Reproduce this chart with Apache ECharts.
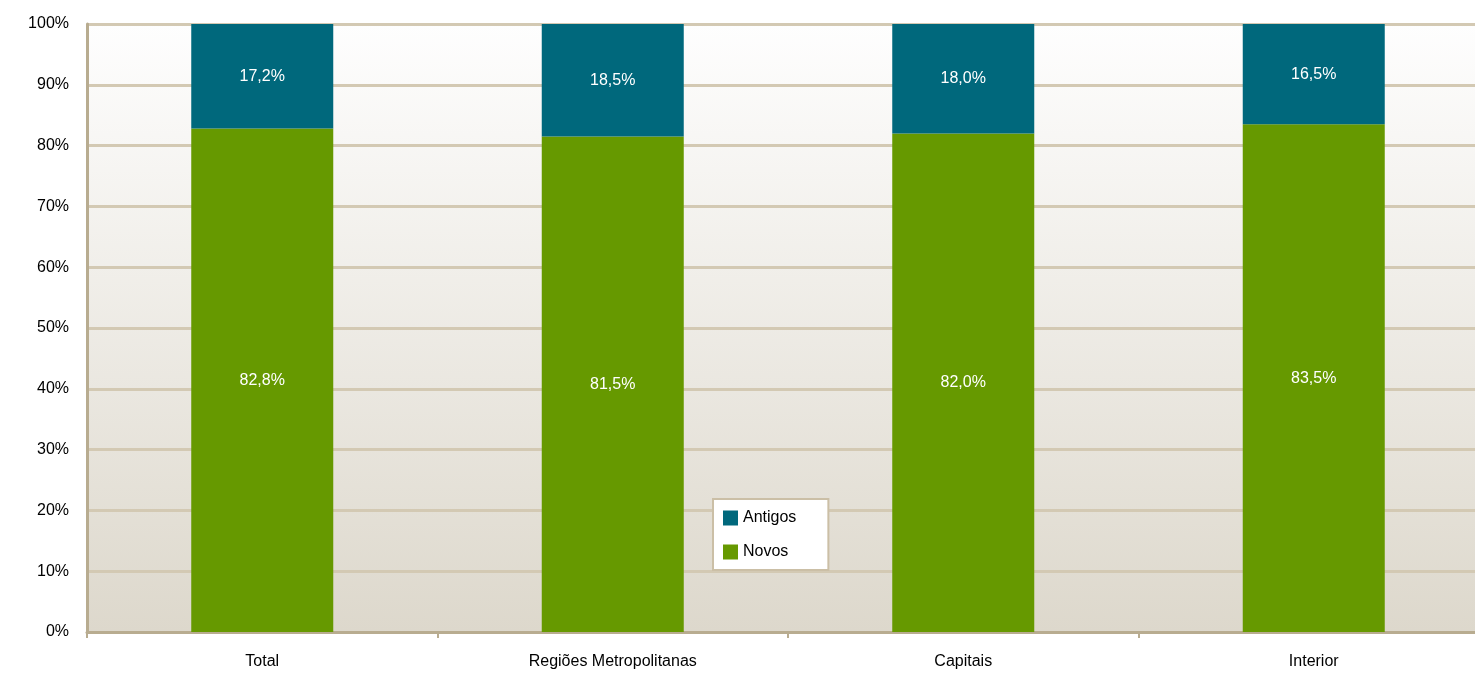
<!DOCTYPE html>
<html><head><meta charset="utf-8">
<script src="https://cdn.jsdelivr.net/npm/echarts@6/dist/echarts.min.js"></script>
<style>html,body{margin:0;padding:0;background:#fff}#c{width:1475px;height:675px}</style>
</head><body><div id="c"></div>
<script>
const categories = ['Total', 'Regiões Metropolitanas', 'Capitais', 'Interior'];
const novos = [82.8, 81.5, 82.0, 83.5];
const antigos = [17.2, 18.5, 18.0, 16.5];
const fmt = v => v.toFixed(1).replace('.', ',') + '%';
const chart = echarts.init(document.getElementById('c'));
const lbl = {show: true, position: 'inside', color: '#fff', fontFamily: 'Liberation Sans, Arial', fontSize: 16, formatter: p => fmt(p.value)};
chart.setOption({
  animation: false,
  grid: {left: 87, width: 1402, top: 24, bottom: 43, show: true, borderWidth: 0, outerBoundsMode: 'none', containLabel: false,
    backgroundColor: {type: 'linear', x: 0, y: 0, x2: 0, y2: 1, colorStops: [{offset: 0, color: '#fefefe'}, {offset: 1, color: '#ddd8cc'}]}},
  legend: {orient: 'vertical', left: 713, top: 499, itemWidth: 15, itemHeight: 15, itemGap: 18,
    padding: [11, 32, 10, 10], backgroundColor: '#fff', borderColor: '#cbbfa6', borderWidth: 2,
    icon: 'rect', itemStyle: {borderWidth: 0}, textStyle: {fontFamily: 'Liberation Sans, Arial', fontSize: 16, color: '#000'},
    data: ['Antigos', 'Novos']},
  xAxis: {type: 'category', data: categories,
    axisLine: {lineStyle: {color: '#b8ac90', width: 3}},
    axisTick: {show: true, length: 6, lineStyle: {color: '#b8ac90', width: 2}},
    axisLabel: {color: '#000', fontFamily: 'Liberation Sans, Arial', fontSize: 16, margin: 22}},
  yAxis: {type: 'value', min: 0, max: 100, interval: 10,
    axisLine: {show: true, lineStyle: {color: '#b8ac90', width: 3}},
    axisTick: {show: false},
    splitLine: {lineStyle: {color: '#d3c9b3', width: 3}},
    axisLabel: {color: '#000', fontFamily: 'Liberation Sans, Arial', fontSize: 16, margin: 18, formatter: v => v + '%'}},
  series: [
    {name: 'Novos', type: 'bar', stack: 's', data: novos, barWidth: 142, itemStyle: {color: '#669900'}, label: lbl},
    {name: 'Antigos', type: 'bar', stack: 's', data: antigos, barWidth: 142, itemStyle: {color: '#00687c'}, label: lbl}
  ]
});
</script></body></html>
